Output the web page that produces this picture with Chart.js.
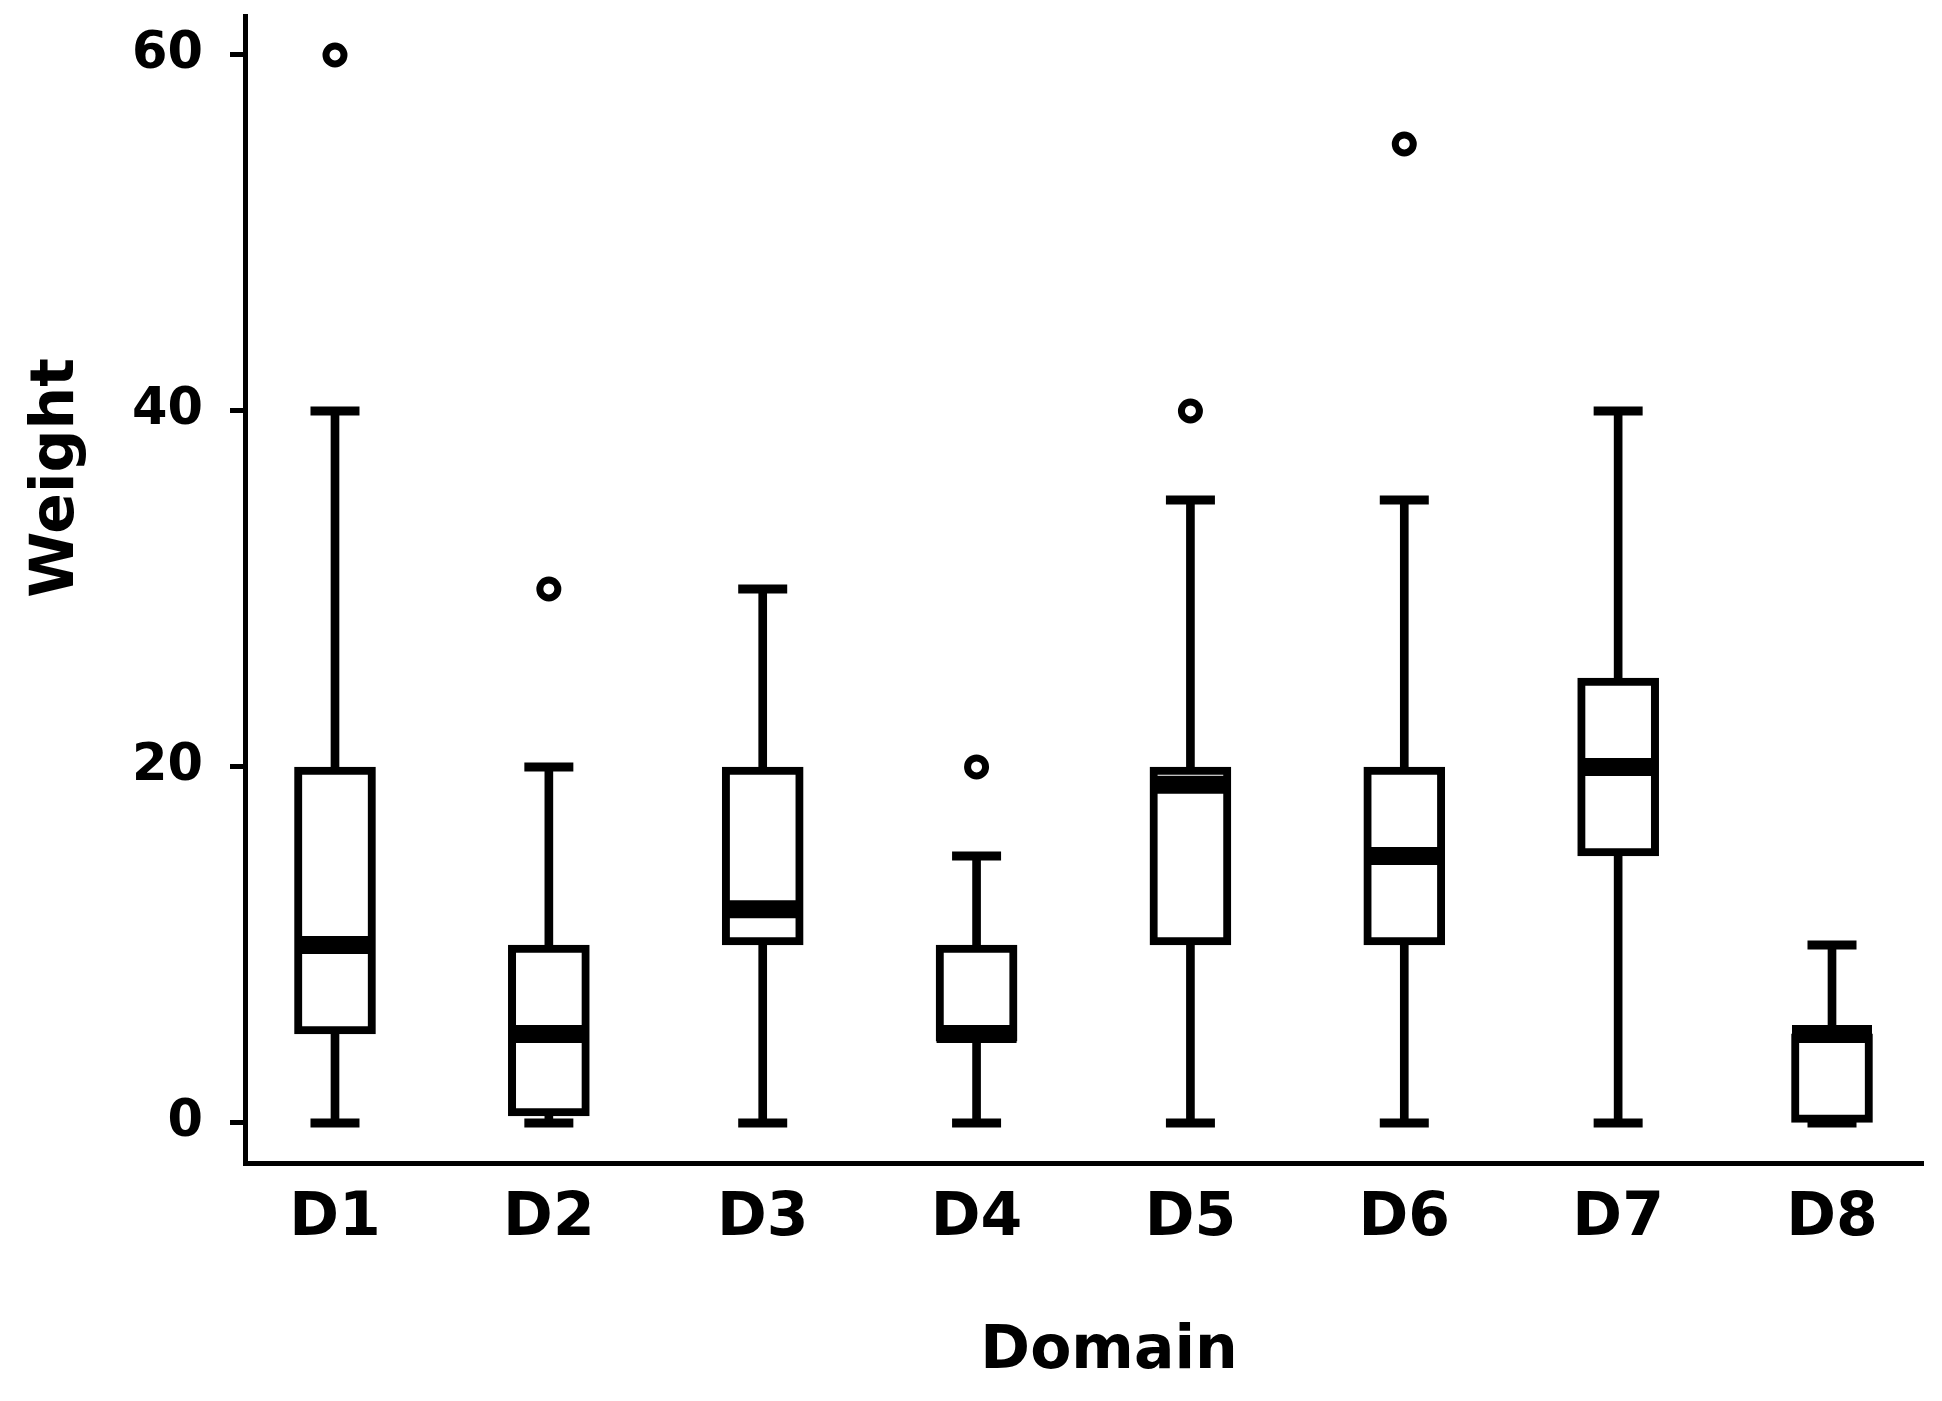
<!DOCTYPE html>
<html>
<head>
<meta charset="utf-8">
<script src="https://cdn.jsdelivr.net/npm/chart.js@4/dist/chart.umd.min.js"></script>
<style>
  html, body { margin: 0; padding: 0; background: #ffffff; }
  canvas { display: block; }
</style>
</head>
<body>
<canvas id="c" width="1942" height="1401"></canvas>
<script>
// ---- data ----
const categories  = ['D1', 'D2', 'D3', 'D4', 'D5', 'D6', 'D7', 'D8'];
const whiskerLow  = [0, 0, 0, 0, 0, 0, 0, 0];
const quartile1   = [5, 0.4, 10, 4.6, 10, 10, 15, 0];
const medians     = [10, 5, 12, 5, 19, 15, 20, 5];
const quartile3   = [20, 10, 20, 10, 20, 20, 25, 5];
const whiskerHigh = [40, 20, 30, 15, 35, 35, 40, 10];
const outliers    = [[60], [30], [], [20], [40], [55], [], []];
const yTickValues = [0, 20, 40, 60];
const xTitle = 'Domain';
const yTitle = 'Weight';

const FONT = '"DejaVu Sans", "Liberation Sans", Arial, sans-serif';
Chart.defaults.font.family = FONT;
Chart.defaults.color = '#000000';

const pos = categories.map((c, i) => i + 1);

const boxData   = pos.map((x, i) => ({ x, y: [quartile1[i], quartile3[i]] }));
const lowStem   = pos.map((x, i) => ({ x, y: [whiskerLow[i], quartile1[i]] }));
const highStem  = pos.map((x, i) => ({ x, y: [quartile3[i], whiskerHigh[i]] }));
const capData   = pos.flatMap((x, i) => [{ x, y: whiskerLow[i] }, { x, y: whiskerHigh[i] }]);
const medData   = pos.map((x, i) => ({ x, y: medians[i] }));
const outData   = pos.flatMap((x, i) => outliers[i].map(v => ({ x, y: v })));

const axisTitles = {
  id: 'axisTitles',
  afterDraw(chart) {
    const ctx = chart.ctx;
    ctx.save();
    ctx.fillStyle = '#000';
    ctx.font = 'bold 60px ' + FONT;
    ctx.textAlign = 'center';
    ctx.textBaseline = 'alphabetic';
    ctx.fillText(xTitle, 1109, 1368);
    ctx.translate(73, 478);
    ctx.rotate(-Math.PI / 2);
    ctx.fillText(yTitle, 0, 0);
    ctx.restore();
  }
};

new Chart(document.getElementById('c'), {
  type: 'bar',
  data: {
    datasets: [
      { type: 'scatter', data: outData, order: 0, clip: false,
        pointStyle: 'circle', pointRadius: 9, pointHoverRadius: 9,
        pointBorderWidth: 7, pointHoverBorderWidth: 7,
        pointBackgroundColor: '#fff', pointBorderColor: '#000' },
      { type: 'scatter', data: medData, order: 1, clip: false,
        pointStyle: 'line', pointRadius: 40, pointHoverRadius: 40,
        pointBorderWidth: 18, pointHoverBorderWidth: 18,
        pointBorderColor: '#000', pointBackgroundColor: '#000' },
      { type: 'scatter', data: capData, order: 2, clip: false,
        pointStyle: 'line', pointRadius: 24.5, pointHoverRadius: 24.5,
        pointBorderWidth: 9, pointHoverBorderWidth: 9,
        pointBorderColor: '#000', pointBackgroundColor: '#000' },
      { type: 'bar', data: boxData, order: 3, grouped: false,
        barThickness: 81, maxBarThickness: 81,
        backgroundColor: '#fff', borderColor: '#000', borderWidth: 8, borderSkipped: false },
      { type: 'bar', data: lowStem, order: 4, grouped: false,
        barThickness: 8, maxBarThickness: 8,
        backgroundColor: '#000', borderWidth: 0 },
      { type: 'bar', data: highStem, order: 4, grouped: false,
        barThickness: 8, maxBarThickness: 8,
        backgroundColor: '#000', borderWidth: 0 }
    ]
  },
  options: {
    responsive: false,
    animation: false,
    events: [],
    layout: { autoPadding: false, padding: { top: 16, right: 19, left: 0, bottom: 0 } },
    plugins: { legend: { display: false }, tooltip: { enabled: false } },
    scales: {
      x: {
        type: 'linear',
        offset: false,
        bounds: 'data',
        min: 0.5792, max: 8.4255,
        afterBuildTicks: s => { s.ticks = pos.map(v => ({ value: v })); },
        afterFit: s => { s.height = 1401 - 1163; s.paddingLeft = 0; s.paddingRight = 0; },
        ticks: {
          autoSkip: false, maxRotation: 0, minRotation: 0, padding: 20,
          font: { size: 60, weight: 'bold' }, color: '#000',
          callback: v => categories[v - 1]
        },
        grid: { display: false, drawTicks: false, offset: false },
        border: { display: true, color: '#000', width: 5 }
      },
      y: {
        type: 'linear',
        bounds: 'data',
        min: -2.25, max: 62.19,
        afterBuildTicks: s => { s.ticks = yTickValues.map(v => ({ value: v })); },
        afterFit: s => { s.width = 245; s.paddingTop = 0; s.paddingBottom = 0; },
        ticks: {
          padding: 27,
          font: { size: 51, weight: 'bold' }, color: '#000'
        },
        grid: { display: true, drawOnChartArea: false, drawTicks: true,
                tickLength: 15, tickWidth: 5, tickColor: '#000', color: '#000' },
        border: { display: true, color: '#000', width: 5 }
      }
    }
  },
  plugins: [axisTitles]
});
</script>
</body>
</html>
